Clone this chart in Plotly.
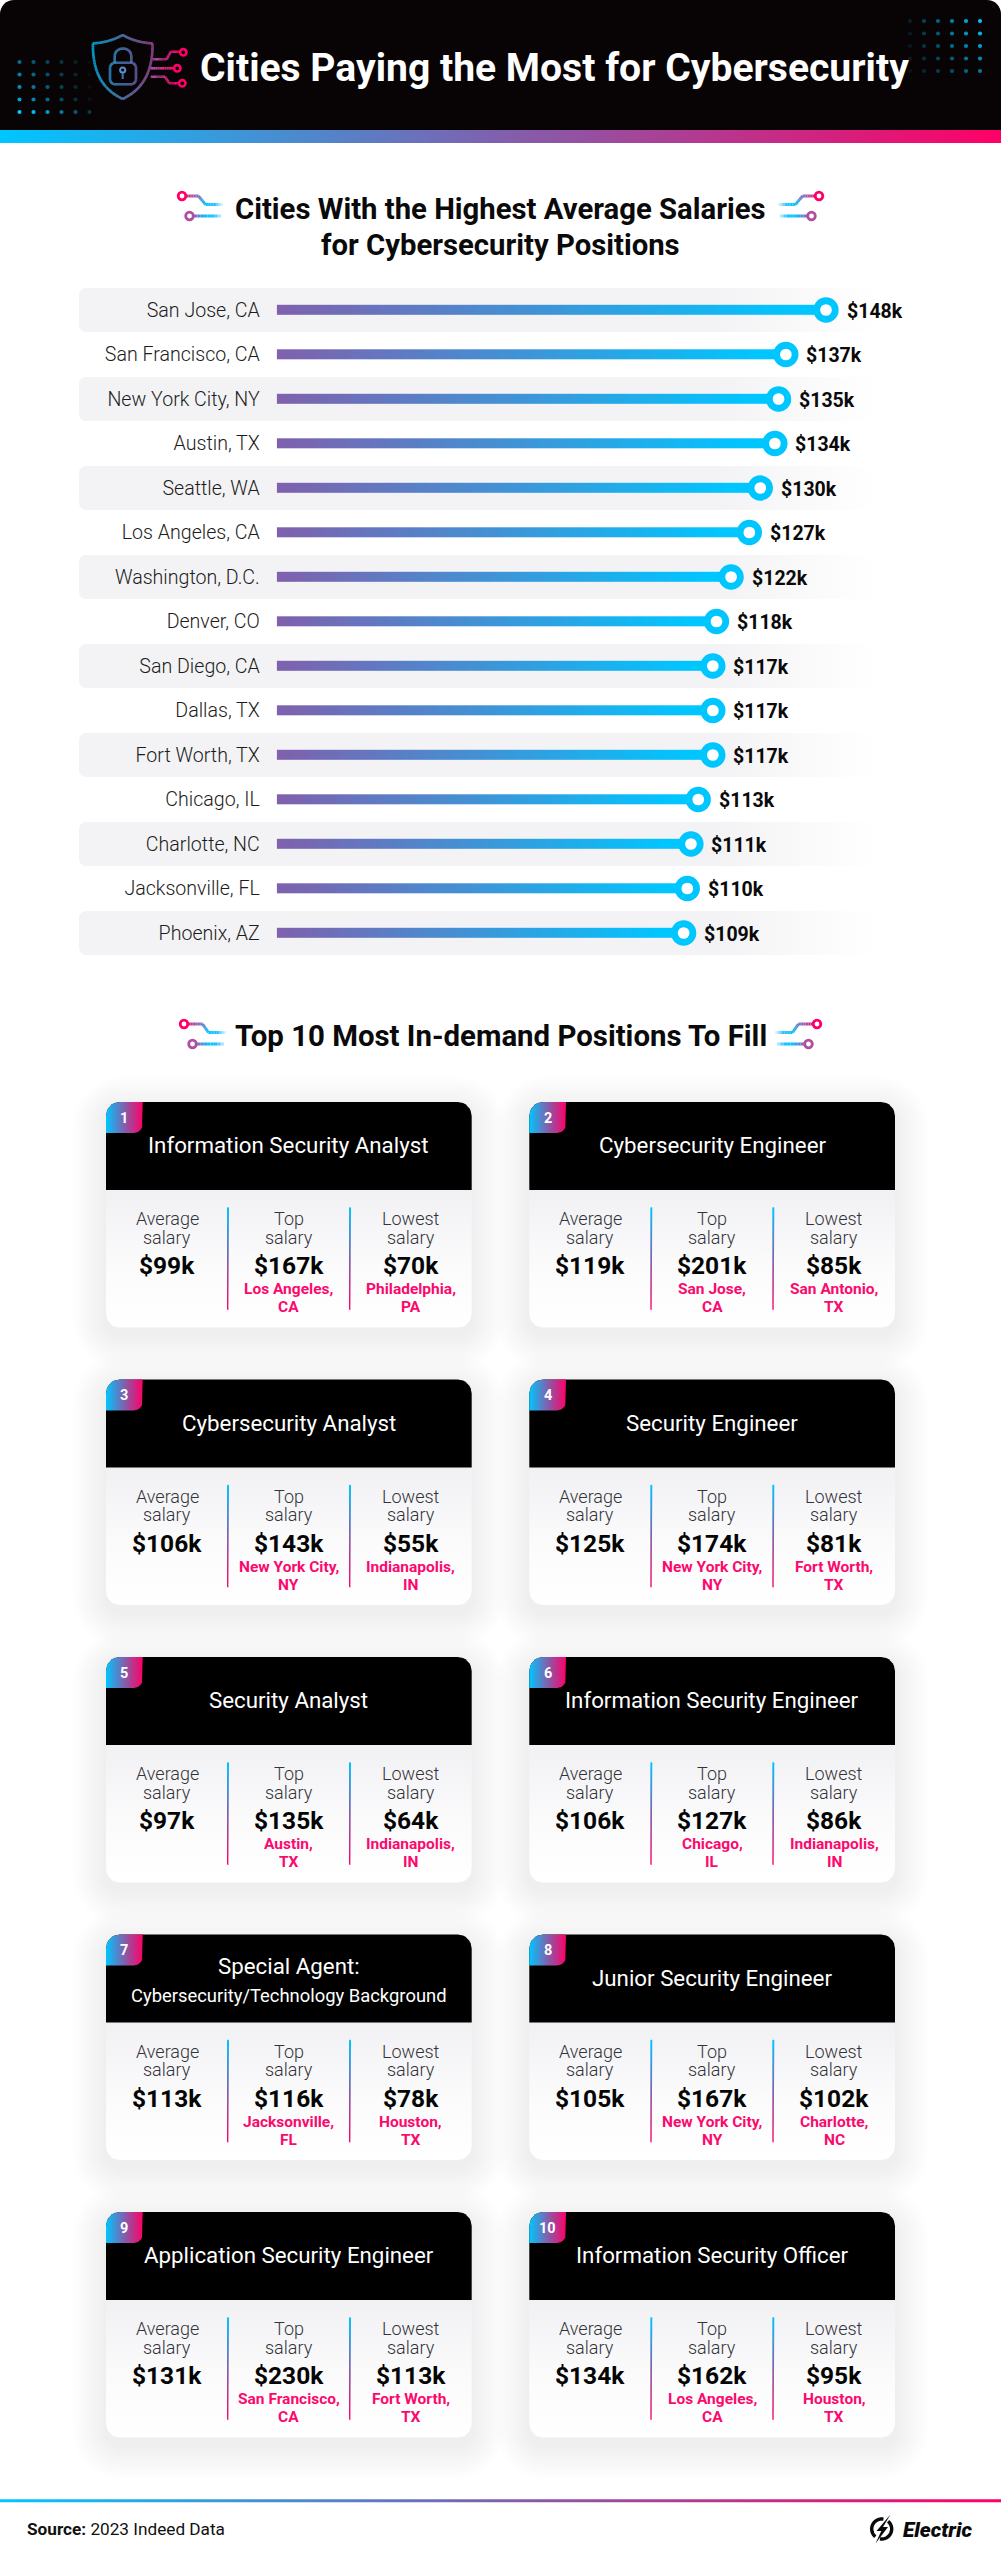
import math
import plotly.graph_objects as go

# ---------- data ----------
cities = ["San Jose, CA", "San Francisco, CA", "New York City, NY", "Austin, TX", "Seattle, WA",
          "Los Angeles, CA", "Washington, D.C.", "Denver, CO", "San Diego, CA", "Dallas, TX",
          "Fort Worth, TX", "Chicago, IL", "Charlotte, NC", "Jacksonville, FL", "Phoenix, AZ"]
city_salaries = [148, 137, 135, 134, 130, 127, 122, 118, 117, 117, 117, 113, 111, 110, 109]

positions = ["Information Security Analyst", "Cybersecurity Engineer", "Cybersecurity Analyst",
             "Security Engineer", "Security Analyst", "Information Security Engineer",
             "Special Agent:|Cybersecurity/Technology Background", "Junior Security Engineer",
             "Application Security Engineer", "Information Security Officer"]
avg_salary = [99, 119, 106, 125, 97, 106, 113, 105, 131, 134]
top_salary = [167, 201, 143, 174, 135, 127, 116, 167, 230, 162]
low_salary = [70, 85, 55, 81, 64, 86, 78, 102, 113, 95]
top_city = ["Los Angeles,|CA", "San Jose,|CA", "New York City,|NY", "New York City,|NY", "Austin,|TX",
            "Chicago,|IL", "Jacksonville,|FL", "New York City,|NY", "San Francisco,|CA", "Los Angeles,|CA"]
low_city = ["Philadelphia,|PA", "San Antonio,|TX", "Indianapolis,|IN", "Fort Worth,|TX", "Indianapolis,|IN",
            "Indianapolis,|IN", "Houston,|TX", "Charlotte,|NC", "Fort Worth,|TX", "Houston,|TX"]

title_text = "Cities Paying the Most for Cybersecurity"
heading_1 = ["Cities With the Highest Average Salaries", "for Cybersecurity Positions"]
heading_2 = "Top 10 Most In-demand Positions To Fill"

# ---------- style ----------
W, H = 1001, 2560
CYAN, PURPLE, PINK = "#00c6ff", "#8060ad", "#ff0066"
FONT = "Roboto"
traces, shapes, annos = [], [], []


def hex_rgb(c):
    return tuple(int(c[i:i + 2], 16) for i in (1, 3, 5))


def mix(c1, c2, t):
    a, b = hex_rgb(c1), hex_rgb(c2)
    return "#%02x%02x%02x" % tuple(round(a[i] + (b[i] - a[i]) * t) for i in range(3))


def ramp(stops, t):
    n = len(stops) - 1
    t = min(max(t, 0), 1)
    i = min(int(t * n), n - 1)
    return mix(stops[i], stops[i + 1], t * n - i)


def rrect(x0, y0, x1, y1, r=(0, 0, 0, 0)):
    """Rounded polygon, radii tl,tr,br,bl."""
    if not isinstance(r, (tuple, list)):
        r = (r, r, r, r)
    pts = []
    corners = [(x0 + r[0], y0 + r[0], r[0], 180), (x1 - r[1], y0 + r[1], r[1], 270),
               (x1 - r[2], y1 - r[2], r[2], 0), (x0 + r[3], y1 - r[3], r[3], 90)]
    for cx, cy, rad, start in corners:
        for k in range(9):
            a = math.radians(start + k * 90 / 8)
            pts.append((cx + rad * math.cos(a), cy + rad * math.sin(a)))
    pts.append(pts[0])
    return pts


def poly_trace(pts, color=None, grad=None, xa="x", ya="y"):
    d = dict(x=[p[0] for p in pts], y=[p[1] for p in pts], mode="lines", fill="toself",
             line=dict(width=0), hoverinfo="skip", showlegend=False, xaxis=xa, yaxis=ya)
    if grad:
        d["fillgradient"] = grad
    else:
        d["fillcolor"] = color
    return go.Scatter(**d)


def hgrad(stops, a, b, kind="horizontal"):
    return dict(type=kind, colorscale=stops, start=a, stop=b)


def path_of(pts, close=True):
    return "M" + "L".join(f"{x:.2f},{y:.2f}" for x, y in pts) + ("Z" if close else "")


def text(x, y, s, size, color="#0a0a0a", weight=400, anchor="center", style=None, vanchor="middle"):
    f = dict(family=FONT, size=size, color=color, weight=weight)
    if style:
        f["style"] = style
    annos.append(dict(x=x, y=y, xref="x", yref="y", text=s, showarrow=False, font=f,
                      xanchor=anchor, yanchor=vanchor, borderpad=0, borderwidth=0))


def poly_sample(points, n_per=10):
    lengths = [math.dist(points[i], points[i + 1]) for i in range(len(points) - 1)]
    tot = sum(lengths)
    out, acc = [], 0
    for i, l in enumerate(lengths):
        n = max(1, int(n_per * l / (tot / (len(lengths)))))
        for k in range(n):
            t = k / n
            out.append((points[i][0] + (points[i + 1][0] - points[i][0]) * t,
                        points[i][1] + (points[i + 1][1] - points[i][1]) * t, (acc + l * t) / tot))
        acc += l
    out.append((points[-1][0], points[-1][1], 1))
    return out


def grad_line(points, stops, width, layer="above", t_fn=None):
    s = poly_sample(points)
    for a, b in zip(s[:-1], s[1:]):
        t = t_fn(a[0], a[1]) if t_fn else a[2]
        shapes.append(dict(type="line", xref="x", yref="y", x0=a[0], y0=a[1], x1=b[0], y1=b[1], layer=layer,
                           line=dict(color=ramp(stops, t), width=width)))


def ring(cx, cy, r, color, width, fill="rgba(0,0,0,0)"):
    shapes.append(dict(type="circle", xref="x", yref="y", x0=cx - r, x1=cx + r, y0=cy - r, y1=cy + r,
                       layer="above", fillcolor=fill, line=dict(color=color, width=width)))


# ---------- header ----------
shapes.append(dict(type="path", xref="x", yref="y", layer="below", fillcolor="#080304", line=dict(width=0),
                   path=path_of(rrect(0, 0, W, 131, (14, 14, 0, 0)))))
traces.append(poly_trace(rrect(0, 130, W, 143), grad=hgrad([[0, CYAN], [0.5, PURPLE], [1, PINK]], 0, W)))

dots_x = []
dots_y = []
dots_o = []
for r in range(5):
    for c in range(6):
        dots_x.append(19.5 + c * 14.0)
        dots_y.append(62 + r * 12.5)
        dots_o.append(min(1, max(0.05, (1 - c / 5.5) * (0.55 + 0.09 * r) + (0.2 if r == 4 else 0))))
        dots_x.append(910 + c * 14.0)
        dots_y.append(21 + r * 12.5)
        dots_o.append(min(1, max(0.1, (0.15 + 0.85 * c / 5) * (1 - 0.1 * r))))
traces.append(go.Scatter(x=dots_x, y=dots_y, mode="markers", hoverinfo="skip", showlegend=False,
                         marker=dict(size=4.2, color=CYAN, opacity=dots_o, line=dict(width=0))))

# shield icon
def bez(p0, p1, p2, p3, n=14):
    out = []
    for k in range(n + 1):
        t = k / n
        u = 1 - t
        out.append((u**3*p0[0] + 3*u*u*t*p1[0] + 3*u*t*t*p2[0] + t**3*p3[0],
                    u**3*p0[1] + 3*u*u*t*p1[1] + 3*u*t*t*p2[1] + t**3*p3[1]))
    return out


shield_cols = [CYAN, "#5f8fd0", "#b04ea0"]
sx = lambda x, y: (x - 92) / 62
shield = bez((122.7, 35), (114, 40), (103, 43), (92.9, 43.4), 6) + \
    bez((92.9, 43.4), (92.5, 70), (101, 89), (122.7, 99), 14) + \
    bez((122.7, 99), (144, 89), (153, 70), (152.5, 43.4), 14) + \
    bez((152.5, 43.4), (142, 43), (131, 40), (122.7, 35), 6)
grad_line(shield, shield_cols, 2.6, t_fn=sx)
lock_col = ["#38a8e8", "#7a78c8"]
lk = rrect(110, 62.7, 136, 84.3, 5)
grad_line(lk, lock_col, 2.6, t_fn=lambda x, y: (x - 110) / 26)
arch = [(114.7, 62.7), (114.7, 56)] + bez((114.7, 56), (114.7, 46), (131.3, 46), (131.3, 56), 10) + [(131.3, 62.7)]
grad_line(arch, lock_col, 2.6, t_fn=lambda x, y: (x - 110) / 26)
ring(122.7, 70, 2.6, "#5a90d8", 2)
grad_line([(122.7, 72.6), (122.7, 79)], ["#5a90d8", "#5a90d8"], 2)
circ_cols = ["#a850a8", PINK]
for pts, c in [([(152.7, 59.3), (166.7, 59.3), (170.7, 51.7), (179.3, 51.7)], (183.3, 52.3)),
               ([(150.7, 68.3), (173.3, 68.3)], (177.3, 68.3)),
               ([(150.7, 76.7), (165, 76.7), (169.3, 83.3), (178.3, 83.3)], (182.3, 83.3))]:
    grad_line(pts, circ_cols, 2.6)
    ring(c[0], c[1], 3.2, PINK, 2.6)

text(554, 68, title_text, 39.1, "#ffffff", 700)


# ---------- headings ----------
def heading_icon(cx, y1, y2, half, xa, xb, xc, xl2):
    """Two pairs of circuit lines mirrored round cx."""
    fade = ["#ffffff", "#1ec0ff", CYAN, "#6d80c8", "#b04ea0", PINK]
    fade2 = ["#ffffff", "#1ec0ff", CYAN, "#6d80c8", "#b04ea0"]
    for sgn in (-1, 1):
        m = lambda x: cx + sgn * x
        pts = [(m(half), y1 + 8.5), (m(xc), y1 + 8.5), (m(xb), y1), (m(xa), y1)]
        grad_line(pts, fade, 3)
        ring(m(xa + 1.5), y1, 3.8, PINK, 2.8, "#ffffff")
        pts2 = [(m(half), y2), (m(xl2), y2)]
        grad_line(pts2, fade2, 3)
        ring(m(xl2 + 1), y2, 3.8, "#b04ea0", 2.8, "#ffffff")


text(500.5, 208.5, heading_1[0], 29.3, "#0a0a0a", 700)
text(500.5, 245, heading_1[1], 29.3, "#0a0a0a", 700)
heading_icon(500.5, 196, 216, 276, 317, 302, 295, 310)
text(500.5, 1036, heading_2, 29.4, "#0a0a0a", 700)
heading_icon(500.5, 1024, 1044, 273, 315, 298, 292, 307)

# ---------- bar chart ----------
ROW0, ROWH = 310.0, 44.5
AX_L, AX_R = 276.7, 900.0
PX_ZERO, PX_PER = 285.8, 3.65
x_lo = (AX_L - PX_ZERO) / PX_PER
x_hi = (AX_R - PX_ZERO) / PX_PER
top_px, bot_px = ROW0 - ROWH / 2, ROW0 + 14.5 * ROWH

for i in range(0, len(cities), 2):
    cy = ROW0 + i * ROWH
    traces.append(poly_trace(rrect(79, cy - 22, 877, cy + 22, (7, 0, 0, 7)),
                             grad=hgrad([[0, "#f3f3f5"], [0.8, "#f3f3f5"], [1, "#ffffff"]], 79, 877)))

half_t = 5.2 / ROWH
N_STEPS = 80
for i, v in enumerate(city_salaries):
    edges = [x_lo + (v - x_lo) * k / N_STEPS for k in range(N_STEPS + 1)]
    shade = [[(k + 0.5) / N_STEPS for k in range(N_STEPS)]]
    traces.append(go.Heatmap(x=edges, y=[i - half_t, i + half_t], z=shade, zmin=0, zmax=1, showscale=False,
                             colorscale=[[0, PURPLE], [0.95, CYAN], [1, CYAN]], hoverinfo="skip",
                             xaxis="x2", yaxis="y2"))
traces.append(go.Scatter(x=city_salaries, y=list(range(len(cities))), mode="markers", xaxis="x2", yaxis="y2",
                         marker=dict(size=18.5, color="#ffffff", line=dict(color=CYAN, width=6.8)),
                         hoverinfo="skip", showlegend=False, cliponaxis=False))
for i, v in enumerate(city_salaries):
    annos.append(dict(x=v, y=i, xref="x2", yref="y2", text=f"${v}k", showarrow=False, xanchor="left",
                      yanchor="middle", xshift=18.5, yshift=-1,
                      font=dict(family=FONT, size=19.5, color="#0a0a0a", weight=700)))

# ---------- cards ----------
CARD_X = [106.0, 529.3]
CARD_W = 365.7
CARD_Y0, CARD_PITCH = 1102.0, 277.5
for i in range(len(positions)):
    cx0 = CARD_X[i % 2]
    cy0 = CARD_Y0 + (i // 2) * CARD_PITCH
    cx1, cy1 = cx0 + CARD_W, cy0 + 225.5
    for k in range(16, 0, -1):
        sp = k * 2.1
        shapes.append(dict(type="path", xref="x", yref="y", layer="below", line=dict(width=0),
                           fillcolor="rgba(110,110,135,0.0075)",
                           path=path_of(rrect(cx0 - sp, cy0 - sp + 8, cx1 + sp, cy1 + sp + 8, 16 + sp))))
    traces.append(poly_trace(rrect(cx0, cy0 + 80, cx1, cy1, (0, 0, 14, 14)),
                             grad=hgrad([[0, "#f1f1f4"], [0.55, "#fbfbfc"], [1, "#ffffff"]], cy0 + 88, cy1, "vertical")))
    traces.append(poly_trace(rrect(cx0, cy0, cx1, cy0 + 88, (14, 14, 0, 0)), color="#000000"))
    traces.append(poly_trace(rrect(cx0, cy0, cx0 + 36.7, cy0 + 31, (14, 0, 9, 0)),
                             grad=hgrad([[0, CYAN], [0.5, PURPLE], [1, PINK]], cx0, cx0 + 36.7)))
    text(cx0 + 18.3, cy0 + 16.2, str(i + 1), 14.5, "#ffffff", 700)

    title_c = cx0 + CARD_W / 2
    if "|" in positions[i]:
        a, b = positions[i].split("|")
        text(title_c, cy0 + 31, a, 22.3, "#ffffff", 400)
        text(title_c, cy0 + 61, b, 18.4, "#ffffff", 400)
    else:
        text(title_c, cy0 + 43, positions[i], 22.3, "#ffffff", 400)

    cols = [cx0 + 61, cx0 + 182.7, cx0 + 304.7]
    heads = ["Average", "Top", "Lowest"]
    vals = [avg_salary[i], top_salary[i], low_salary[i]]
    places = [None, top_city[i], low_city[i]]
    for cc, hd, v, pl in zip(cols, heads, vals, places):
        text(cc, cy0 + 116.5, hd, 18, "#333338", 300)
        text(cc, cy0 + 135, "salary", 18, "#333338", 300)
        text(cc, cy0 + 163.5, f"${v}k", 24.5, "#050505", 700)
        if pl:
            l1, l2 = pl.split("|")
            text(cc, cy0 + 187, l1, 15.5, "#fb0a6e", 700)
            text(cc, cy0 + 205, l2, 15.5, "#fb0a6e", 700)
    for dx in (122, 244):
        traces.append(poly_trace(rrect(cx0 + dx - 1, cy0 + 105, cx0 + dx + 1, cy0 + 208, 1),
                                 grad=hgrad([[0, CYAN], [0.5, PURPLE], [1, PINK]], cy0 + 105, cy0 + 208, "vertical")))

# ---------- footer ----------
traces.append(poly_trace(rrect(0, 2499.3, W, 2502.2), grad=hgrad([[0, CYAN], [0.5, PURPLE], [1, PINK]], 0, W)))
text(27, 2529, "<b>Source:</b> 2023 Indeed Data", 17.2, "#111111", 400, anchor="left")
# logo
lc = (881.7, 2529)
arc1 = [(lc[0] + 10 * math.cos(math.radians(a)), lc[1] + 10 * math.sin(math.radians(a))) for a in range(-50, 105, 5)]
arc2 = [(lc[0] + 10 * math.cos(math.radians(a)), lc[1] + 10 * math.sin(math.radians(a))) for a in range(130, 285, 5)]
for arc in (arc1, arc2):
    shapes.append(dict(type="path", xref="x", yref="y", layer="above", line=dict(color="#0a0a0a", width=3.4),
                       path=path_of(arc, close=False)))
bolt = [(890.5, 2514.5), (876.5, 2531), (881.3, 2531), (875.5, 2543.5), (888, 2527), (883, 2527)]
shapes.append(dict(type="path", xref="x", yref="y", layer="above", fillcolor="#0a0a0a", line=dict(width=0),
                   path=path_of(bolt)))
text(903, 2530, "Electric", 20.8, "#0a0a0a", 900, anchor="left", style="italic")

# ---------- figure ----------
fig = go.Figure(traces)
none_axis = dict(visible=False, showgrid=False, zeroline=False, fixedrange=True)
fig.update_layout(
    width=W, height=H, margin=dict(l=0, r=0, t=0, b=0, pad=0), autosize=False,
    paper_bgcolor="#ffffff", plot_bgcolor="rgba(0,0,0,0)", showlegend=False, hovermode=False,
    shapes=shapes, annotations=annos,
    xaxis=dict(range=[0, W], domain=[0, 1], **none_axis),
    yaxis=dict(range=[H, 0], domain=[0, 1], **none_axis),
    xaxis2=dict(range=[x_lo, x_hi], domain=[AX_L / W, AX_R / W], anchor="y2", **none_axis),
    yaxis2=dict(range=[14.5, -0.5], domain=[1 - bot_px / H, 1 - top_px / H], anchor="x2",
                tickmode="array", tickvals=list(range(len(cities))), ticktext=cities,
                showgrid=False, zeroline=False, showline=False, fixedrange=True,
                ticks="outside", ticklen=12, tickcolor="rgba(0,0,0,0)",
                tickfont=dict(family=FONT, size=19.6, color="#1c1c20", weight=300)),
)
fig.write_html("out.html", config=dict(displayModeBar=False),
               post_script="document.body.style.margin='0';")
